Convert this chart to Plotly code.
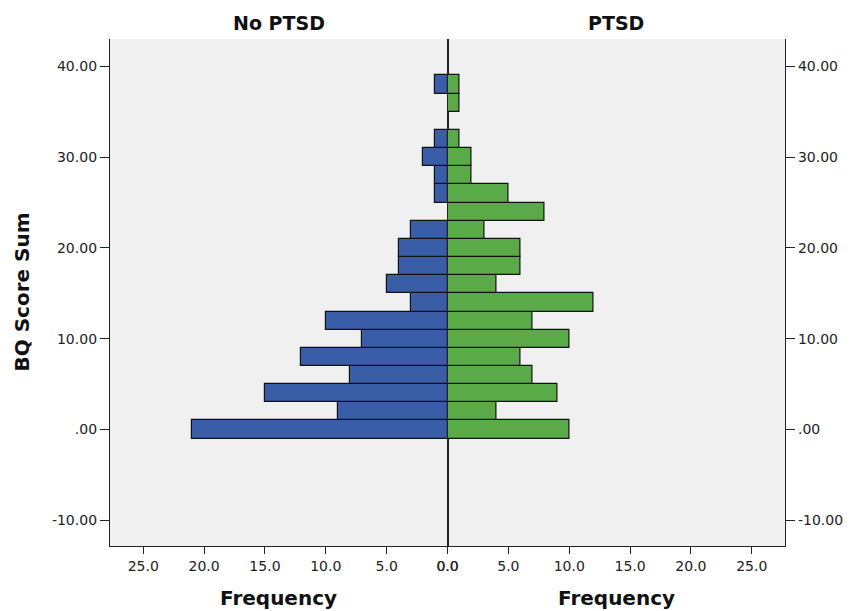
import plotly.graph_objects as go
from plotly.subplots import make_subplots

# BQ score sum bins (bin width 2) and frequencies per group
score_bins = [0, 2, 4, 6, 8, 10, 12, 14, 16, 18, 20, 22, 24, 26, 28, 30, 32, 34, 36, 38]
no_ptsd = [21, 9, 15, 8, 12, 7, 10, 3, 5, 4, 4, 3, 0, 1, 1, 2, 1, 0, 0, 1]
ptsd = [10, 4, 9, 7, 6, 10, 7, 12, 4, 6, 6, 3, 8, 5, 2, 2, 1, 0, 1, 1]

freq_ticks = [0, 5, 10, 15, 20, 25]
freq_labels = ["0.0", "5.0", "10.0", "15.0", "20.0", "25.0"]
score_ticks = [-10, 0, 10, 20, 30, 40]
score_labels = ["-10.00", ".00", "10.00", "20.00", "30.00", "40.00"]

BLUE = "#3a5da8"
GREEN = "#5aaa48"
FONT = "DejaVu Sans"
TXT = "#222222"

fig = make_subplots(rows=1, cols=2, horizontal_spacing=0)


def nonzero(bins, counts):
    pairs = [(b, c) for b, c in zip(bins, counts) if c > 0]
    return [p[0] for p in pairs], [p[1] for p in pairs]


yb, xc = nonzero(score_bins, no_ptsd)
fig.add_trace(go.Bar(y=yb, x=xc, orientation="h", width=2,
                     marker=dict(color=BLUE, line=dict(color="#111111", width=1.2)),
                     showlegend=False, hoverinfo="x+y"), row=1, col=1)
yb, xc = nonzero(score_bins, ptsd)
fig.add_trace(go.Bar(y=yb, x=xc, orientation="h", width=2,
                     marker=dict(color=GREEN, line=dict(color="#111111", width=1.2)),
                     showlegend=False, hoverinfo="x+y"), row=1, col=2)

xmax = 27.73
yrange = [-12.83, 43.02]
tickfont = dict(family=FONT, size=14, color=TXT)

common_x = dict(tickvals=freq_ticks, ticktext=freq_labels, ticks="outside", ticklen=7,
                tickcolor="#222222", showline=True, linecolor="#222222", linewidth=1.3,
                showgrid=False, zeroline=False, tickfont=tickfont, fixedrange=True)
fig.update_xaxes(range=[xmax, 0], row=1, col=1, **common_x)
fig.update_xaxes(range=[0, xmax], row=1, col=2, **common_x)

common_y = dict(range=yrange, tickvals=score_ticks, ticktext=score_labels, ticks="outside",
                ticklen=9, tickcolor="#222222", showline=True, mirror=True,
                linecolor="#222222", linewidth=1.3, showgrid=False, zeroline=False,
                tickfont=tickfont, fixedrange=True)
fig.update_yaxes(side="left", row=1, col=1, **common_y)
fig.update_yaxes(side="right", row=1, col=2, **common_y)

title_font = dict(family=FONT, size=19, color="#111111")
axis_title_font = dict(family=FONT, size=20, color="#111111")
annotations = [
    dict(text="<b>No PTSD</b>", x=0.25, y=1, xref="paper", yref="paper",
         xanchor="center", yanchor="middle", yshift=16, showarrow=False, font=title_font),
    dict(text="<b>PTSD</b>", x=0.75, y=1, xref="paper", yref="paper",
         xanchor="center", yanchor="middle", yshift=16, showarrow=False, font=title_font),
    dict(text="<b>Frequency</b>", x=0.25, y=0, xref="paper", yref="paper",
         xanchor="center", yanchor="middle", yshift=-52, showarrow=False, font=axis_title_font),
    dict(text="<b>Frequency</b>", x=0.75, y=0, xref="paper", yref="paper",
         xanchor="center", yanchor="middle", yshift=-52, showarrow=False, font=axis_title_font),
    dict(text="<b>BQ Score Sum</b>", x=0, y=0.5, xref="paper", yref="paper",
         xanchor="center", yanchor="middle", xshift=-89, textangle=-90,
         showarrow=False, font=axis_title_font),
]

fig.update_layout(
    width=855, height=611,
    margin=dict(l=110, r=68, t=39, b=65),
    paper_bgcolor="white",
    plot_bgcolor="#f0f0f0",
    bargap=0,
    annotations=annotations,
)

fig.write_html("out.html")
